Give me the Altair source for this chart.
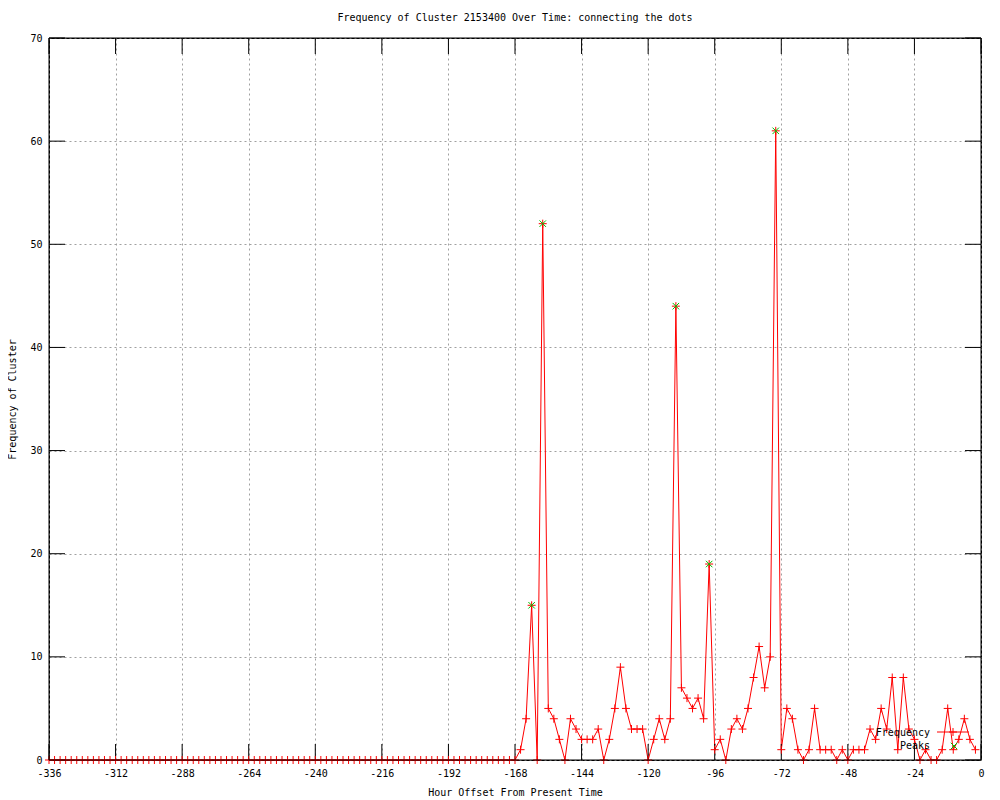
import altair as alt
import pandas as pd

# ---- data ----
hours = list(range(-336, 0, 2))
freq = [
    # -336 .. -170
    0, 0, 0, 0, 0, 0, 0, 0, 0, 0, 0, 0, 0, 0, 0, 0, 0, 0, 0, 0, 0,
    0, 0, 0, 0, 0, 0, 0, 0, 0, 0, 0, 0, 0, 0, 0, 0, 0, 0, 0, 0, 0,
    0, 0, 0, 0, 0, 0, 0, 0, 0, 0, 0, 0, 0, 0, 0, 0, 0, 0, 0, 0, 0,
    0, 0, 0, 0, 0, 0, 0, 0, 0, 0, 0, 0, 0, 0, 0, 0, 0, 0, 0, 0, 0,
    # -168 .. -2
    0, 1, 4, 15, 0, 52, 5, 4, 2, 0,
    4, 3, 2, 2, 2, 3, 0, 2, 5, 9,
    5, 3, 3, 3, 0, 2, 4, 2, 4, 44,
    7, 6, 5, 6, 4, 19, 1, 2, 0, 3,
    4, 3, 5, 8, 11, 7, 10, 61, 1, 5,
    4, 1, 0, 1, 5, 1, 1, 1, 0, 1,
    0, 1, 1, 1, 3, 2, 5, 3, 8, 1,
    8, 3, 2, 0, 1, 0, 0, 1, 5, 1,
    2, 4, 2, 1,
]
peak_hours = [-162, -158, -110, -98, -74]
peak_values = [15, 52, 44, 19, 61]
x_ticks = [-336, -312, -288, -264, -240, -216, -192, -168, -144, -120, -96, -72, -48, -24, 0]
y_ticks = [0, 10, 20, 30, 40, 50, 60, 70]
legend_labels = ["Frequency", "Peaks"]
title_text = "Frequency of Cluster 2153400 Over Time: connecting the dots"
x_title = "Hour Offset From Present Time"
y_title = "Frequency of Cluster"

# ---- layout / style ----
W, H = 932, 722
FONT = "DejaVu Sans Mono"
RED = "#ff0000"
GREEN = "#00c000"
PLUS = "M-1,0L1,0M0,-1L0,1"
XSHAPE = "M-1,-1L1,1M-1,1L1,-1"
TICK = 16

df = pd.DataFrame({"hour": hours, "freq": freq})
pk = pd.DataFrame({"hour": peak_hours, "freq": peak_values})
xt = pd.DataFrame({"hour": x_ticks})
yt = pd.DataFrame({"freq": y_ticks})
one = pd.DataFrame({"k": [0]})

xs = alt.Scale(domain=[-336, 0], nice=False, zero=False)
ys = alt.Scale(domain=[0, 70], nice=False, zero=True)

x_axis = alt.Axis(
    values=x_ticks, title=x_title, grid=True, gridDash=[2, 3], gridColor="#a0a0a0",
    gridWidth=1, ticks=False, domain=False, labelPadding=8,
    labelExpr="'' + datum.value", labelFont=FONT, labelFontSize=10, labelColor="black",
    titleFont=FONT, titleFontSize=10, titleFontWeight="normal", titleColor="black",
    titlePadding=9, labelFlush=False, labelOverlap=False,
)
y_axis = alt.Axis(
    values=y_ticks, title=y_title, grid=True, gridDash=[2, 3], gridColor="#a0a0a0",
    gridWidth=1, ticks=False, domain=False, labelPadding=7,
    labelExpr="'' + datum.value", labelFont=FONT, labelFontSize=10, labelColor="black",
    titleFont=FONT, titleFontSize=10, titleFontWeight="normal", titleColor="black",
    titlePadding=12, labelFlush=False, labelOverlap=False,
)

X = alt.X("hour:Q", scale=xs, axis=x_axis)
Y = alt.Y("freq:Q", scale=ys, axis=y_axis)

line = alt.Chart(df).mark_line(color=RED, strokeWidth=1).encode(x=X, y=Y)

xt_bottom = alt.Chart(xt).mark_rule(color="black", strokeWidth=1).encode(
    x=X, y=alt.value(H), y2=alt.value(H - TICK))
xt_top = alt.Chart(xt).mark_rule(color="black", strokeWidth=1).encode(
    x=X, y=alt.value(0), y2=alt.value(TICK))
yt_left = alt.Chart(yt).mark_rule(color="black", strokeWidth=1).encode(
    y=Y, x=alt.value(0), x2=alt.value(TICK))
yt_right = alt.Chart(yt).mark_rule(color="black", strokeWidth=1).encode(
    y=Y, x=alt.value(W - TICK), x2=alt.value(W))

markers = alt.Chart(df).mark_point(shape=PLUS, filled=False, size=64, color=RED,
                                   strokeWidth=1, opacity=1).encode(x=X, y=Y)

peaks = alt.Chart(pk).mark_point(shape=XSHAPE, filled=False, size=42, color=GREEN,
                                 strokeWidth=1, opacity=1).encode(x=X, y=Y)

border = alt.Chart(one).mark_rect(fillOpacity=0, stroke="black", strokeWidth=1).encode(
    x=alt.value(0), x2=alt.value(W), y=alt.value(0), y2=alt.value(H))

# legend (gnuplot style: label left of sample)
leg1_df = pd.DataFrame({"label": [legend_labels[0]]})
leg2_df = pd.DataFrame({"label": [legend_labels[1]]})
leg_text1 = alt.Chart(leg1_df).mark_text(font=FONT, fontSize=10, align="right",
                                        baseline="middle", color="black").encode(
    text="label:N", x=alt.value(881), y=alt.value(695))
leg_text2 = alt.Chart(leg2_df).mark_text(font=FONT, fontSize=10, align="right",
                                        baseline="middle", color="black").encode(
    text="label:N", x=alt.value(881), y=alt.value(708))
leg_line = alt.Chart(one).mark_rule(color=RED, strokeWidth=1).encode(
    x=alt.value(888), x2=alt.value(920), y=alt.value(694))
leg_plus = alt.Chart(one).mark_point(shape=PLUS, filled=False, size=64, color=RED,
                                     strokeWidth=1, opacity=1).encode(
    x=alt.value(904), y=alt.value(694))
leg_x = alt.Chart(one).mark_point(shape=XSHAPE, filled=False, size=42, color=GREEN,
                                  strokeWidth=1, opacity=1).encode(
    x=alt.value(905), y=alt.value(708))

chart = alt.layer(
    line, xt_bottom, xt_top, yt_left, yt_right, markers, peaks, border,
    leg_text1, leg_text2, leg_line, leg_plus, leg_x,
).properties(
    width=W, height=H,
    title=alt.TitleParams(title_text, font=FONT, fontSize=10, fontWeight="normal",
                          color="black", anchor="middle", offset=10),
    autosize=alt.AutoSizeParams(type="none"),
    padding={"left": 41, "top": 30, "right": 11, "bottom": 38},
    background="white",
).configure_view(stroke="black", strokeWidth=1)

chart.save("out.html", embed_options={"renderer": "svg", "actions": False})
